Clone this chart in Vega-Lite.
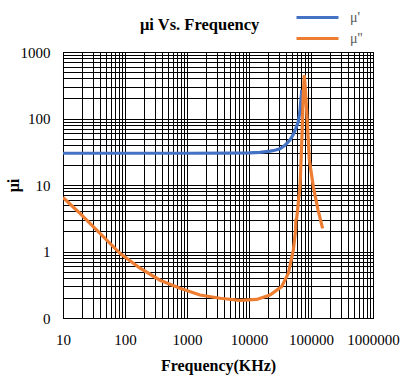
{
  "$schema": "https://vega.github.io/schema/vega-lite/v6.json",
  "autosize": {"type": "none"},
  "width": 310,
  "height": 266,
  "padding": {"left": 63, "top": 52, "right": 43, "bottom": 63},
  "background": "white",
  "title": {
    "text": "μi Vs. Frequency",
    "anchor": "start",
    "frame": "group",
    "dx": 77,
    "dy": 28,
    "offset": 0,
    "font": "Liberation Serif",
    "fontSize": 16.5,
    "fontWeight": "bold",
    "color": "black"
  },
  "data": {
    "values": [
      {"s": "μ'", "f": 10, "v": 30},
      {"s": "μ'", "f": 100, "v": 30},
      {"s": "μ'", "f": 1000, "v": 30},
      {"s": "μ'", "f": 5000, "v": 30.1},
      {"s": "μ'", "f": 10000, "v": 30.5},
      {"s": "μ'", "f": 15000, "v": 31},
      {"s": "μ'", "f": 21800, "v": 32.4},
      {"s": "μ'", "f": 26000, "v": 33.3},
      {"s": "μ'", "f": 31600, "v": 35},
      {"s": "μ'", "f": 38000, "v": 39.5},
      {"s": "μ'", "f": 45700, "v": 47.5},
      {"s": "μ'", "f": 52000, "v": 58},
      {"s": "μ'", "f": 58700, "v": 76},
      {"s": "μ'", "f": 62400, "v": 90},
      {"s": "μ'", "f": 66000, "v": 125},
      {"s": "μ'", "f": 68200, "v": 175},
      {"s": "μ'", "f": 70000, "v": 230},
      {"s": "μ'", "f": 70800, "v": 270},
      {"s": "μ''", "f": 10, "v": 6.5},
      {"s": "μ''", "f": 18.8, "v": 3.75},
      {"s": "μ''", "f": 39.5, "v": 1.88},
      {"s": "μ''", "f": 83, "v": 0.94},
      {"s": "μ''", "f": 175, "v": 0.56},
      {"s": "μ''", "f": 367, "v": 0.37},
      {"s": "μ''", "f": 771, "v": 0.28},
      {"s": "μ''", "f": 1622, "v": 0.222},
      {"s": "μ''", "f": 3400, "v": 0.198},
      {"s": "μ''", "f": 7160, "v": 0.184},
      {"s": "μ''", "f": 13300, "v": 0.19},
      {"s": "μ''", "f": 21800, "v": 0.222},
      {"s": "μ''", "f": 33600, "v": 0.296},
      {"s": "μ''", "f": 43100, "v": 0.47},
      {"s": "μ''", "f": 51900, "v": 1.05},
      {"s": "μ''", "f": 55000, "v": 1.7},
      {"s": "μ''", "f": 56600, "v": 2.1},
      {"s": "μ''", "f": 57000, "v": 3.0},
      {"s": "μ''", "f": 58500, "v": 3.1},
      {"s": "μ''", "f": 60500, "v": 4.0},
      {"s": "μ''", "f": 63500, "v": 6.5},
      {"s": "μ''", "f": 66500, "v": 9.4},
      {"s": "μ''", "f": 70800, "v": 42},
      {"s": "μ''", "f": 75200, "v": 240},
      {"s": "μ''", "f": 78000, "v": 451},
      {"s": "μ''", "f": 81000, "v": 280},
      {"s": "μ''", "f": 85000, "v": 134},
      {"s": "μ''", "f": 94000, "v": 23.8},
      {"s": "μ''", "f": 109000, "v": 9.4},
      {"s": "μ''", "f": 130000, "v": 4.2},
      {"s": "μ''", "f": 154000, "v": 2.23}
    ]
  },
  "mark": {"type": "line", "strokeWidth": 3.2, "clip": true},
  "encoding": {
    "x": {
      "field": "f",
      "type": "quantitative",
      "scale": {"type": "log", "domain": [10, 1000000], "nice": false},
      "axis": {
        "title": "Frequency(KHz)",
        "values": [10,20,30,40,50,60,70,80,90,100,200,300,400,500,600,700,800,900,1000,2000,3000,4000,5000,6000,7000,8000,9000,10000,20000,30000,40000,50000,60000,70000,80000,90000,100000,200000,300000,400000,500000,600000,700000,800000,900000,1000000],
        "labelExpr": "abs(log(datum.value)/LN10 - round(log(datum.value)/LN10)) < 0.000001 ? format(datum.value, 'd') : ''",
        "labelFlush": false,
        "labelOverlap": false,
        "labelPadding": 14,
        "titlePadding": 10
      }
    },
    "y": {
      "field": "v",
      "type": "quantitative",
      "scale": {"type": "log", "domain": [0.1, 1000], "nice": false},
      "axis": {
        "title": "μi",
        "titleX": -42,
        "values": [0.1,0.2,0.3,0.4,0.5,0.6,0.7,0.8,0.9,1,2,3,4,5,6,7,8,9,10,20,30,40,50,60,70,80,90,100,200,300,400,500,600,700,800,900,1000],
        "labelExpr": "abs(log(datum.value)/LN10 - round(log(datum.value)/LN10)) < 0.000001 ? format(datum.value, 'd') : ''",
        "labelFlush": false,
        "labelOverlap": false,
        "labelPadding": 13
      }
    },
    "color": {
      "field": "s",
      "type": "nominal",
      "scale": {"domain": ["μ'", "μ''"], "range": ["#4472C4", "#ED7D31"]},
      "legend": {
        "title": null,
        "orient": "none",
        "legendX": 242,
        "legendY": -47,
        "symbolType": "M-2,0H2",
        "symbolSize": 441,
        "symbolStrokeWidth": 3.2,
        "labelOffset": 20,
        "rowPadding": 1,
        "labelFont": "Liberation Serif",
        "labelFontSize": 14,
        "labelColor": "#595959"
      }
    }
  },
  "config": {
    "view": {"stroke": "black", "strokeWidth": 1},
    "axis": {
      "grid": true,
      "gridColor": "black",
      "gridOpacity": 1,
      "gridWidth": 1,
      "ticks": false,
      "domainColor": "black",
      "domainWidth": 1,
      "labelFont": "Liberation Serif",
      "labelFontSize": 15,
      "labelColor": "black",
      "titleFont": "Liberation Serif",
      "titleFontSize": 16,
      "titleFontWeight": "bold",
      "titleColor": "black"
    }
  }
}
